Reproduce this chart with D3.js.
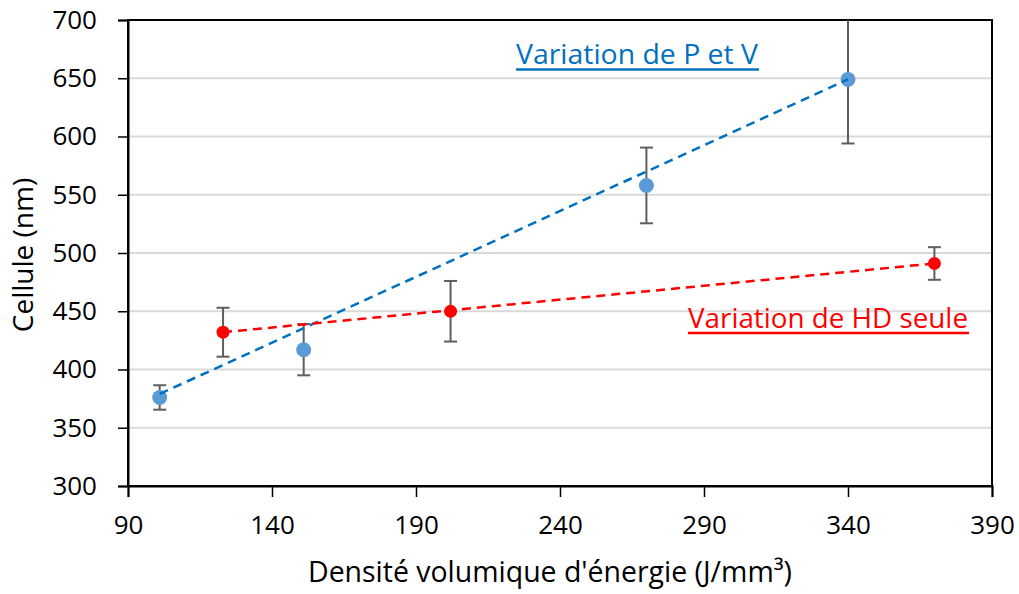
<!DOCTYPE html>
<html><head><meta charset="utf-8">
<script src="https://cdn.jsdelivr.net/npm/d3@7"></script>
<style>body{margin:0;background:#fff}svg{display:block}text{font-family:"Open Sans",sans-serif}</style>
</head><body><svg id="c" width="1019" height="594"></svg>
<script>
// Data
const pvX = [101, 151, 270, 340];
const pvY = [376, 417, 558, 649];
const pvErr = [10.5, 22, 32.5, 55];
const hdX = [123, 202, 370];
const hdY = [432, 450, 491];
const hdErr = [21, 26, 14];
const pvTrendX = [101, 340];
const pvTrendY = [379, 649];
const hdTrendX = [123, 370];
const hdTrendY = [432, 491];
const xTicks = [90, 140, 190, 240, 290, 340, 390];
const yTicks = [300, 350, 400, 450, 500, 550, 600, 650, 700];

const svg = d3.select("#c");
const L = 128, R = 992, T = 20, B = 486;
const x = d3.scaleLinear().domain([90, 390]).range([L, R]);
const y = d3.scaleLinear().domain([300, 700]).range([B, T]);

// gridlines
svg.append("g").selectAll("line").data(yTicks).join("line")
  .attr("x1", L).attr("x2", R).attr("y1", d => y(d)).attr("y2", d => y(d))
  .attr("stroke", "#d9d9d9").attr("stroke-width", 2);

// frame
svg.append("rect").attr("x", L).attr("y", T).attr("width", R - L).attr("height", B - T)
  .attr("fill", "none").attr("stroke", "#000").attr("stroke-width", 2);

// axes
const xa = svg.append("g").attr("transform", `translate(0,${B})`)
  .call(d3.axisBottom(x).tickValues(xTicks).tickSize(11).tickPadding(19).tickFormat(d3.format("d")));
const ya = svg.append("g").attr("transform", `translate(${L},0)`)
  .call(d3.axisLeft(y).tickValues(yTicks).tickSize(10).tickPadding(21).tickFormat(d3.format("d")));
[xa, ya].forEach(a => {
  a.select(".domain").attr("stroke", "#000").attr("stroke-width", 2);
  a.selectAll(".tick line").attr("stroke", "#000").attr("stroke-width", 1.5);
  a.selectAll(".tick text").attr("font-size", 26).attr("fill", "#000")
    .style("font-family", "'Open Sans',sans-serif");
});
xa.selectAll(".tick text").attr("dy", "0.71em");

// axis titles
svg.append("text").attr("x", 308).attr("y", 582)
  .attr("font-size", 28.5).attr("fill", "#000")
  .attr("textLength", 484).attr("lengthAdjust", "spacingAndGlyphs")
  .text("Densité volumique d'énergie (J/mm³)");
svg.append("text").attr("transform", "translate(33,255) rotate(-90)").attr("text-anchor", "middle")
  .attr("font-size", 28).attr("fill", "#000").text("Cellule (nm)");

const clip = svg.append("clipPath").attr("id", "pc").append("rect")
  .attr("x", L).attr("y", T).attr("width", R - L).attr("height", B - T);
const plot = svg.append("g").attr("clip-path", "url(#pc)");

function errorBars(xs, ys, es) {
  const g = plot.append("g").attr("stroke", "#5f5f5f").attr("stroke-width", 2);
  xs.forEach((xv, i) => {
    const cx = x(xv), y1 = y(ys[i] + es[i]), y2 = y(ys[i] - es[i]);
    g.append("line").attr("x1", cx).attr("x2", cx).attr("y1", y1).attr("y2", y2);
    g.append("line").attr("x1", cx - 6.5).attr("x2", cx + 6.5).attr("y1", y1).attr("y2", y1);
    g.append("line").attr("x1", cx - 6.5).attr("x2", cx + 6.5).attr("y1", y2).attr("y2", y2);
  });
}
errorBars(pvX, pvY, pvErr);
errorBars(hdX, hdY, hdErr);

plot.append("g").selectAll("circle").data(pvX).join("circle")
  .attr("cx", d => x(d)).attr("cy", (d, i) => y(pvY[i])).attr("r", 7.5).attr("fill", "#5b9bd5");
plot.append("g").selectAll("circle").data(hdX).join("circle")
  .attr("cx", d => x(d)).attr("cy", (d, i) => y(hdY[i])).attr("r", 6.5).attr("fill", "#ff0000");

const line = d3.line().x(d => x(d[0])).y(d => y(d[1]));
plot.append("path").datum(pvTrendX.map((d, i) => [d, pvTrendY[i]])).attr("d", line)
  .attr("fill", "none").attr("stroke", "#0070c0").attr("stroke-width", 2.5).attr("stroke-dasharray", "9,6");
plot.append("path").datum(hdTrendX.map((d, i) => [d, hdTrendY[i]])).attr("d", line)
  .attr("fill", "none").attr("stroke", "#ff0000").attr("stroke-width", 2.5).attr("stroke-dasharray", "9,6");

// annotations
function label(txt, x0, base, ul, col, w) {
  svg.append("text").attr("x", x0).attr("y", base).attr("font-size", 28).attr("fill", col)
    .attr("textLength", w).attr("lengthAdjust", "spacingAndGlyphs").text(txt);
  svg.append("line").attr("x1", x0).attr("x2", x0 + w + 1).attr("y1", ul).attr("y2", ul)
    .attr("stroke", col).attr("stroke-width", 2.7);
}
label("Variation de P et V", 516, 64, 69.5, "#0070c0", 242);
label("Variation de HD seule", 688, 328, 333, "#ff0000", 280);
</script></body></html>
